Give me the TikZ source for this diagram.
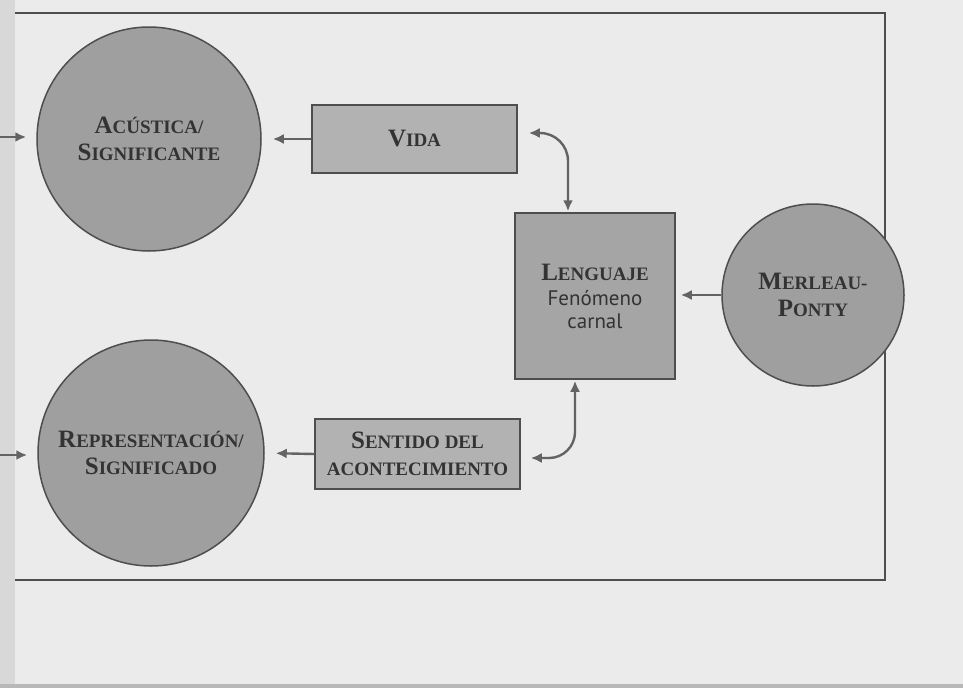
\documentclass[tikz,border=0pt]{standalone}
\usepackage{fontspec}
\setmainfont{Liberation Serif}
\newfontfamily\lensans{PT Sans}
\usetikzlibrary{arrows.meta}
\definecolor{bg}{HTML}{EBEBEB}
\definecolor{gutter}{HTML}{D8D8D8}
\definecolor{circfill}{HTML}{9F9F9F}
\definecolor{boxfill}{HTML}{B2B2B2}
\definecolor{lenfill}{HTML}{A5A5A5}
\definecolor{edge}{HTML}{4E4E4E}
\definecolor{arrcol}{HTML}{636363}
\definecolor{txt}{HTML}{333333}
\newcommand{\mysc}[2]{{\fontsize{25}{28}\selectfont #1}#2}
\tikzset{
  bigcirc/.style={circle, draw=edge, line width=1.5pt, fill=circfill, text=txt,
    align=center, inner sep=0pt, font=\bfseries\fontsize{19}{27}\selectfont},
  labelbox/.style={rectangle, draw=edge, line width=1.5pt, fill=boxfill, text=txt,
    align=center, inner sep=0pt, font=\bfseries\fontsize{19}{27}\selectfont},
  arr/.style={draw=arrcol, line width=2.4pt, -{Latex[length=11pt,width=10pt]}},
  dblarr/.style={draw=arrcol, line width=2.4pt, {Latex[length=11pt,width=10pt]}-{Latex[length=11pt,width=10pt]}},
  frameline/.style={draw=edge, line width=1.6pt}
}
\begin{document}
\begin{tikzpicture}[x=1pt,y=-1pt]
\useasboundingbox (0,0) rectangle (963,688);
\fill[bg] (0,0) rectangle (963,688);
\fill[gutter] (0,0) rectangle (15,688);
\fill[gutter!85!black] (0,684) rectangle (963,688);
\draw[frameline] (15,13) -- (885,13) -- (885,580) -- (15,580);

\node[bigcirc, minimum size=224pt] (acu) at (149,139) {\mysc{A}{CÚSTICA/}\\\mysc{S}{IGNIFICANTE}};
\node[bigcirc, minimum size=226pt] (rep) at (151,453) {\mysc{R}{EPRESENTACIÓN/}\\\mysc{S}{IGNIFICADO}};
\node[bigcirc, minimum size=182pt] (mer) at (813,295) {\mysc{M}{ERLEAU-}\\\mysc{P}{ONTY}};

\node[labelbox, minimum width=205pt, minimum height=68pt] (vida) at (414.5,139) {\mysc{V}{IDA}};
\node[labelbox, minimum width=205pt, minimum height=70pt] (sent) at (417.5,454) {\mysc{S}{ENTIDO DEL}\\ACONTECIMIENTO};
\node[labelbox, fill=lenfill, minimum width=160pt, minimum height=166pt] (leng) at (595,296)
  {\mysc{L}{ENGUAJE}\\[-2pt]{\lensans\mdseries\fontsize{21}{22}\selectfont Fenómeno}\\[-4pt]{\lensans\mdseries\fontsize{21}{22}\selectfont carnal}};

\coordinate (in1) at (0,137);
\coordinate (in2) at (0,455);

\draw[arr, shorten >=11pt] (vida.west) -- (acu.east);
\draw[arr, shorten >=11pt] (sent.west) -- (rep.east);
\draw[arr, shorten >=5pt] (mer.west) -- (mer.west -| leng.east);
\draw[arr, shorten >=10pt] (in1) -- (in1 -| acu.west);
\draw[arr, shorten >=10pt] (in2) -- (in2 -| rep.west);

\draw[dblarr, rounded corners=28pt, shorten <=11pt, shorten >=1pt]
  ([yshift=6pt]vida.east) -| ([xshift=-27pt]leng.north);
\draw[dblarr, rounded corners=26pt, shorten <=1pt, shorten >=10pt]
  ([xshift=-20pt]leng.south) |- ([yshift=-4pt]sent.east);
\end{tikzpicture}
\end{document}
